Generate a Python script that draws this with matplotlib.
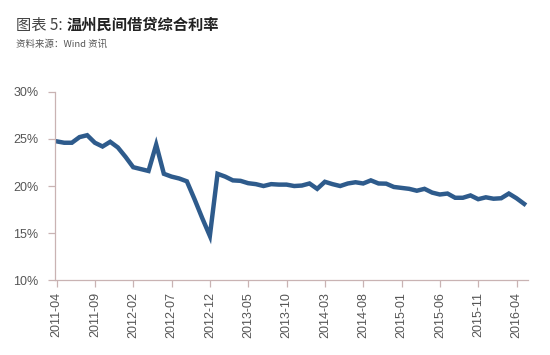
import matplotlib
matplotlib.use("Agg")
import matplotlib.pyplot as plt
import pandas as pd

plt.rcParams['font.family'] = ['Liberation Sans', 'Noto Sans CJK SC', 'DejaVu Sans']

# monthly composite rate, 2011-04 .. 2016-05 (%)
months = [str(p) for p in pd.period_range("2011-04", "2016-05", freq="M")]
rate = [24.75, 24.6, 24.6, 25.2, 25.4, 24.6, 24.2, 24.7, 24.1, 23.1,
        22.0, 21.8, 21.6, 24.4, 21.3, 21.0, 20.8, 20.5, 18.6, 16.6,
        14.7, 21.3, 21.0, 20.6, 20.55, 20.3, 20.2, 20.0, 20.2, 20.15,
        20.15, 20.0, 20.05, 20.27, 19.7, 20.45, 20.2, 20.0, 20.27, 20.4,
        20.27, 20.6, 20.27, 20.25, 19.9, 19.8, 19.7, 19.5, 19.7, 19.3,
        19.1, 19.2, 18.75, 18.75, 19.0, 18.6, 18.8, 18.65, 18.7, 19.2,
        18.7, 18.1]
tick_every = 5
yticks = [10, 15, 20, 25, 30]

spine_col = '#c9b3b3'
label_col = '#555555'

fig = plt.figure(figsize=(5.5, 3.55), dpi=100)
ax = fig.add_axes([0.1, 0.211, 0.86, 0.53])

ax.plot(range(len(rate)), rate, color='#2e5b8c', linewidth=3.2,
        solid_joinstyle='miter')

ax.set_xlim(-0.2, 61.5)
ax.set_ylim(10, 30)
ax.set_yticks(yticks)
ax.set_yticklabels([f"{v}%" for v in yticks])
xt = list(range(0, len(months), tick_every))
ax.set_xticks(xt)
ax.set_xticklabels([months[i] for i in xt], rotation=90)

for side in ['top', 'right']:
    ax.spines[side].set_visible(False)
for side in ['left', 'bottom']:
    ax.spines[side].set_color(spine_col)
    ax.spines[side].set_linewidth(0.9)
ax.tick_params(axis='y', direction='out', length=5, width=0.9, color=spine_col,
               labelsize=9, labelcolor=label_col, pad=7)
ax.tick_params(axis='x', direction='out', length=5, width=0.9, color=spine_col,
               labelsize=9, labelcolor=label_col, pad=3.5)

cjk = ['Noto Sans CJK SC', 'DejaVu Sans']
t1 = fig.text(0.03, 1 - 25 / 355, "图表 5: ", fontsize=11, color='#444444',
              family=cjk, va='center')
fig.canvas.draw()
bb = t1.get_window_extent()
x2 = bb.x1 / fig.bbox.width
fig.text(x2, 1 - 25 / 355, "温州民间借贷综合利率", fontsize=11, color='#222222',
         fontweight='bold', family=cjk, va='center')
fig.text(0.03, 1 - 44 / 355, "资料来源：Wind 资讯", fontsize=6.8, color='#555555',
         family=cjk, va='center')

fig.savefig("out.png", dpi=100)
